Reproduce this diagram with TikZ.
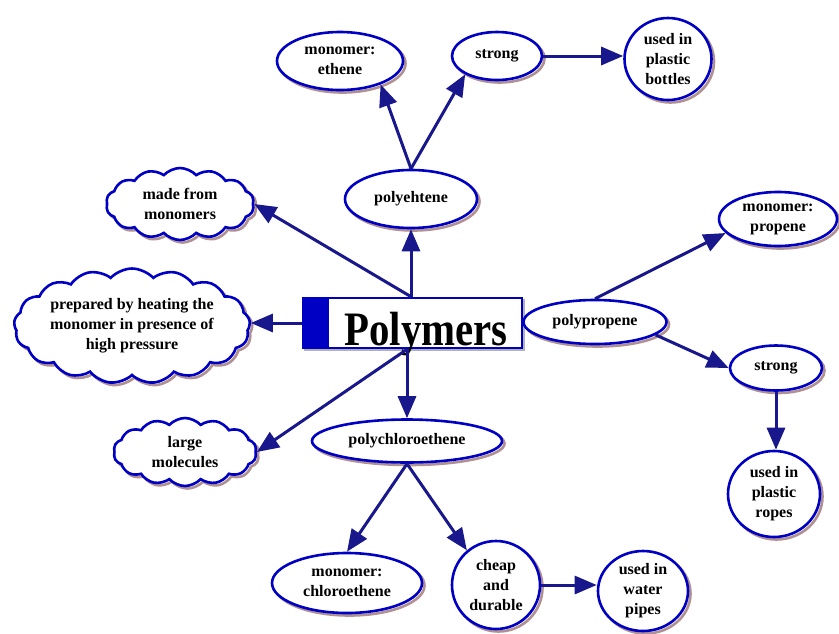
\documentclass[tikz,border=0pt]{standalone}
\usepackage{fontspec}
\setmainfont{Liberation Serif}
\usetikzlibrary{shapes.geometric,shapes.symbols,arrows.meta}
\definecolor{bord}{HTML}{0000C4}
\definecolor{arrc}{HTML}{18188C}
\definecolor{shc}{HTML}{B09090}
\begin{document}
\begin{tikzpicture}[x=1pt,y=-1pt,
  every node/.style={font=\bfseries\fontsize{16}{20}\selectfont, align=center, inner sep=0pt, text=black},
  shad/.style={preaction={draw=shc, line width=2.6pt, transform canvas={xshift=2.5pt,yshift=-2.5pt}}},
  ell/.style={ellipse, draw=bord, line width=2.6pt, fill=white, shad},
  cld/.style={cloud, cloud puffs=#1, cloud puff arc=95, cloud ignores aspect, aspect=2, draw=bord, line width=2.6pt, fill=white, shad},
  arr/.style={draw=arrc, line width=3pt, -{Triangle[length=22pt,width=18pt]}}]
\useasboundingbox[fill=white] (0,0) rectangle (839,633);

% central box
\node[draw=bord, line width=2.6pt, fill=white, minimum width=219pt, minimum height=50pt,
  preaction={draw=black!30, line width=2pt, transform canvas={xshift=2pt,yshift=-2pt}},
  path picture={\fill[bord] (path picture bounding box.south west) rectangle ([xshift=26pt]path picture bounding box.north west);}]
  (box) at (412.5,323) {};
\node[anchor=base, font=\bfseries\fontsize{40}{40}\selectfont] (ptxt) at (426,345) {\scalebox{1.02}[1.2]{Polymers}};

% ellipses / circles
\node[ell, minimum width=132pt, minimum height=58pt] (pe) at (411,199) {polyehtene};
\node[ell, minimum width=126pt, minimum height=58pt] (me) at (340,61) {monomer:\\ethene};
\node[ell, minimum width=90pt, minimum height=48pt] (st1) at (497,56) {strong};
\node[ell, minimum width=87pt, minimum height=82pt] (bot) at (668,59) {used in\\plastic\\bottles};
\node[ell, minimum width=143pt, minimum height=44pt] (pp) at (595,322) {polypropene};
\node[ell, minimum width=118pt, minimum height=54pt] (mp) at (778,219) {monomer:\\propene};
\node[ell, minimum width=92pt, minimum height=45pt] (sr) at (776,368) {strong};
\node[ell, minimum width=92pt, minimum height=86pt] (rp) at (774,494) {used in\\plastic\\ropes};
\node[ell, minimum width=190pt, minimum height=43pt] (pc) at (407,441) {polychloroethene};
\node[ell, minimum width=150pt, minimum height=60pt] (mc) at (347,583) {monomer:\\chloroethene};
\node[ell, minimum width=88pt, minimum height=88pt] (cd) at (496,585) {cheap\\and\\durable};
\node[ell, minimum width=90pt, minimum height=80pt] (wp) at (643,591) {used in\\water\\pipes};

% clouds
\node[cld=14, minimum width=148pt, minimum height=72pt] (mfm) at (180,204) {};
\node at (mfm) {made from\\monomers};
\node[cld=17, minimum width=236pt, minimum height=115pt] (prep) at (132,326) {};
\node at (prep) {prepared by heating the\\monomer in presence of\\high pressure};
\node[cld=14, minimum width=143pt, minimum height=68pt] (lm) at (185,452) {};
\node at (lm) {large\\molecules};

% connectors
\draw[arr] (pe.south |- box.north) -- (pe.south);
\draw[arr] (pe.south |- box.north) -- (mfm.east);
\draw[arr] (box.west) -- (box.west -| prep.east);
\draw[arr] (pc.north |- box.south) -- (pc.north);
\draw[arr] (pc.north |- box.south) -- (lm.east);
\draw[arr] (pe.north) -- (me.-30);
\draw[arr] (pe.north) -- (st1.210);
\draw[arr] (st1.east) -- (st1.east -| bot.west);
\draw[arr] (pp.north) -- (mp.195);
\draw[arr] (pp.-12) -- (sr.west);
\draw[arr] (sr.south) -- (sr.south |- rp.north);
\draw[arr] (pc.south) -- (mc.north);
\draw[arr] (pc.south) -- (cd.130);
\draw[arr] (cd.east) -- (cd.east -| wp.west);
\end{tikzpicture}
\end{document}
